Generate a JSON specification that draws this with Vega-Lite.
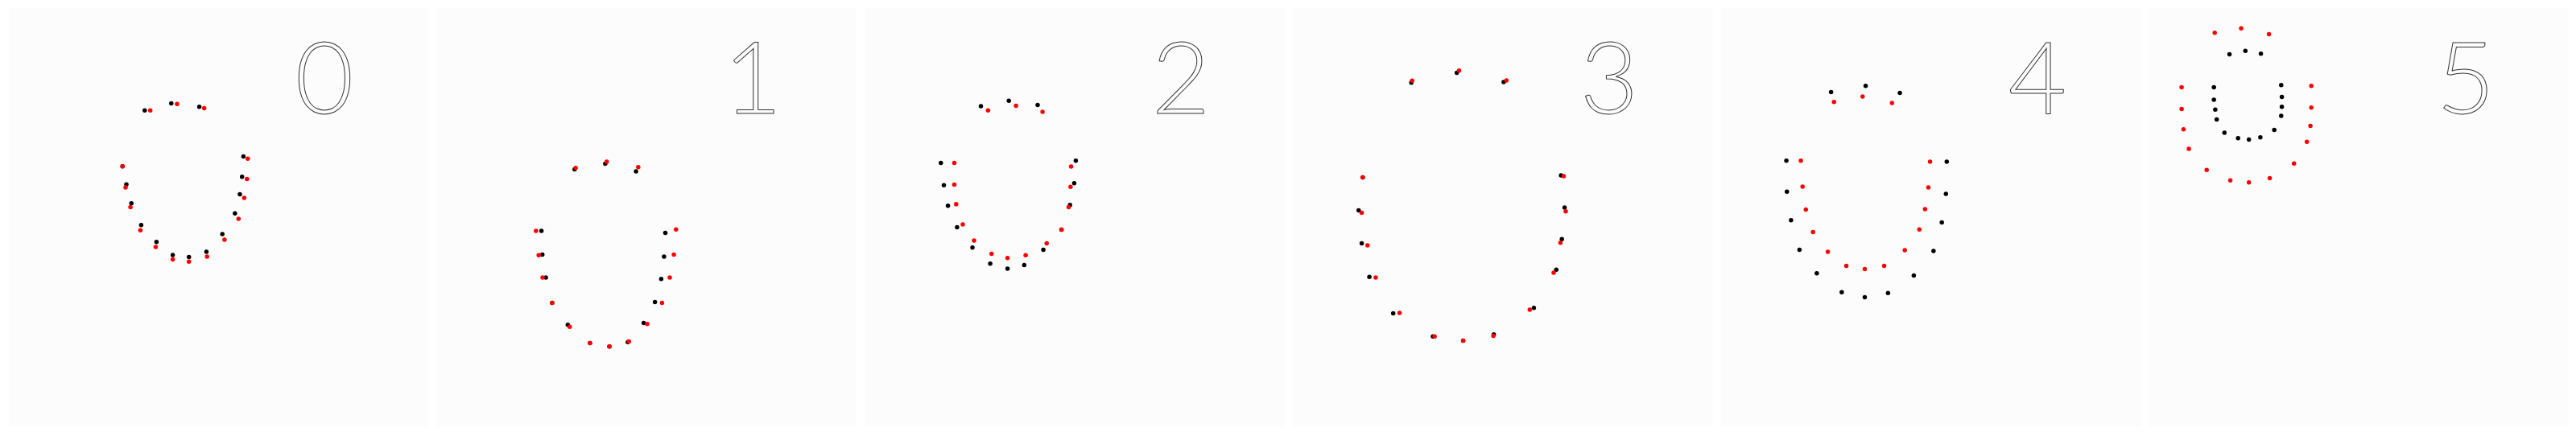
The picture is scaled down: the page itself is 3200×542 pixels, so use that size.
{
  "$schema": "https://vega.github.io/schema/vega-lite/v6.json",
  "background": "white",
  "padding": {"left": 10.7, "top": 10, "right": 8, "bottom": 12},
  "data": {"values": [
    {"p":0,"s":"black","x":179.8,"y":137.2},{"p":0,"s":"black","x":212.8,"y":128.6},{"p":0,"s":"black","x":247.6,"y":132.7},{"p":0,"s":"black","x":152.2,"y":206.7},{"p":0,"s":"black","x":157.0,"y":229.2},{"p":0,"s":"black","x":163.2,"y":252.7},{"p":0,"s":"black","x":175.4,"y":279.7},{"p":0,"s":"black","x":194.4,"y":300.7},{"p":0,"s":"black","x":214.6,"y":317.0},{"p":0,"s":"black","x":234.7,"y":319.4},{"p":0,"s":"black","x":256.4,"y":312.9},{"p":0,"s":"black","x":276.2,"y":291.1},{"p":0,"s":"black","x":291.9,"y":265.2},{"p":0,"s":"black","x":298.0,"y":241.6},{"p":0,"s":"black","x":300.7,"y":219.8},{"p":0,"s":"black","x":302.4,"y":194.6},
    {"p":1,"s":"black","x":181.8,"y":210.5},{"p":1,"s":"black","x":219.9,"y":203.6},{"p":1,"s":"black","x":258.1,"y":212.9},{"p":1,"s":"black","x":140.6,"y":286.9},{"p":1,"s":"black","x":141.7,"y":316.6},{"p":1,"s":"black","x":146.1,"y":345.0},{"p":1,"s":"black","x":153.9,"y":376.4},{"p":1,"s":"black","x":173.3,"y":403.7},{"p":1,"s":"black","x":200.9,"y":426.5},{"p":1,"s":"black","x":225.0,"y":430.7},{"p":1,"s":"black","x":247.9,"y":425.2},{"p":1,"s":"black","x":267.6,"y":401.6},{"p":1,"s":"black","x":281.6,"y":375.4},{"p":1,"s":"black","x":289.4,"y":346.7},{"p":1,"s":"black","x":292.9,"y":319.1},{"p":1,"s":"black","x":294.5,"y":289.6},
    {"p":2,"s":"black","x":154.5,"y":132.0},{"p":2,"s":"black","x":189.2,"y":125.2},{"p":2,"s":"black","x":225.0,"y":130.4},{"p":2,"s":"black","x":104.8,"y":202.5},{"p":2,"s":"black","x":108.5,"y":230.2},{"p":2,"s":"black","x":113.6,"y":255.8},{"p":2,"s":"black","x":124.9,"y":282.4},{"p":2,"s":"black","x":144.0,"y":307.7},{"p":2,"s":"black","x":166.1,"y":327.7},{"p":2,"s":"black","x":187.6,"y":333.9},{"p":2,"s":"black","x":208.3,"y":329.5},{"p":2,"s":"black","x":232.1,"y":310.4},{"p":2,"s":"black","x":254.6,"y":285.5},{"p":2,"s":"black","x":265.2,"y":254.8},{"p":2,"s":"black","x":270.4,"y":227.8},{"p":2,"s":"black","x":272.4,"y":199.8},
    {"p":3,"s":"black","x":157.2,"y":102.7},{"p":3,"s":"black","x":213.7,"y":90.5},{"p":3,"s":"black","x":271.9,"y":101.9},{"p":3,"s":"black","x":96.9,"y":220.6},{"p":3,"s":"black","x":91.8,"y":261.6},{"p":3,"s":"black","x":95.6,"y":302.5},{"p":3,"s":"black","x":105.1,"y":344.3},{"p":3,"s":"black","x":134.7,"y":389.6},{"p":3,"s":"black","x":184.1,"y":418.2},{"p":3,"s":"black","x":221.6,"y":423.4},{"p":3,"s":"black","x":259.7,"y":415.8},{"p":3,"s":"black","x":309.4,"y":382.7},{"p":3,"s":"black","x":337.3,"y":335.3},{"p":3,"s":"black","x":344.2,"y":297.3},{"p":3,"s":"black","x":347.6,"y":257.9},{"p":3,"s":"black","x":343.2,"y":218.1},
    {"p":4,"s":"black","x":146.6,"y":114.4},{"p":4,"s":"black","x":189.6,"y":106.8},{"p":4,"s":"black","x":232.1,"y":115.4},{"p":4,"s":"black","x":91.1,"y":199.8},{"p":4,"s":"black","x":91.8,"y":238.2},{"p":4,"s":"black","x":96.9,"y":273.8},{"p":4,"s":"black","x":107.4,"y":310.4},{"p":4,"s":"black","x":128.9,"y":339.8},{"p":4,"s":"black","x":159.9,"y":363.3},{"p":4,"s":"black","x":188.5,"y":369.5},{"p":4,"s":"black","x":217.4,"y":364.3},{"p":4,"s":"black","x":249.4,"y":342.5},{"p":4,"s":"black","x":273.9,"y":312.1},{"p":4,"s":"black","x":284.2,"y":276.6},{"p":4,"s":"black","x":289.3,"y":240.9},{"p":4,"s":"black","x":290.3,"y":200.9},
    {"p":5,"s":"black","x":109.6,"y":67.4},{"p":5,"s":"black","x":129.3,"y":63.3},{"p":5,"s":"black","x":148.6,"y":66.7},{"p":5,"s":"black","x":90.2,"y":108.6},{"p":5,"s":"black","x":90.2,"y":124.1},{"p":5,"s":"black","x":91.9,"y":136.2},{"p":5,"s":"black","x":93.7,"y":148.6},{"p":5,"s":"black","x":103.3,"y":164.9},{"p":5,"s":"black","x":120.2,"y":171.8},{"p":5,"s":"black","x":133.7,"y":173.5},{"p":5,"s":"black","x":147.9,"y":170.8},{"p":5,"s":"black","x":165.2,"y":161.5},{"p":5,"s":"black","x":173.8,"y":144.1},{"p":5,"s":"black","x":174.6,"y":132.7},{"p":5,"s":"black","x":174.6,"y":120.6},{"p":5,"s":"black","x":173.8,"y":105.8},
    {"p":0,"s":"red","x":186.7,"y":137.2},{"p":0,"s":"red","x":220.0,"y":129.3},{"p":0,"s":"red","x":253.7,"y":134.5},{"p":0,"s":"red","x":152.2,"y":206.7},{"p":0,"s":"red","x":156.0,"y":233.0},{"p":0,"s":"red","x":162.1,"y":257.5},{"p":0,"s":"red","x":174.4,"y":286.2},{"p":0,"s":"red","x":193.4,"y":307.0},{"p":0,"s":"red","x":214.6,"y":322.5},{"p":0,"s":"red","x":234.7,"y":325.3},{"p":0,"s":"red","x":257.2,"y":319.1},{"p":0,"s":"red","x":278.9,"y":297.9},{"p":0,"s":"red","x":296.3,"y":272.0},{"p":0,"s":"red","x":303.4,"y":246.1},{"p":0,"s":"red","x":306.8,"y":222.6},{"p":0,"s":"red","x":307.8,"y":197.3},
    {"p":1,"s":"red","x":183.1,"y":208.7},{"p":1,"s":"red","x":221.7,"y":200.9},{"p":1,"s":"red","x":260.8,"y":207.7},{"p":1,"s":"red","x":133.8,"y":286.9},{"p":1,"s":"red","x":137.2,"y":317.3},{"p":1,"s":"red","x":142.0,"y":345.0},{"p":1,"s":"red","x":153.9,"y":376.4},{"p":1,"s":"red","x":175.7,"y":406.2},{"p":1,"s":"red","x":200.9,"y":426.5},{"p":1,"s":"red","x":225.0,"y":430.7},{"p":1,"s":"red","x":249.3,"y":424.4},{"p":1,"s":"red","x":272.0,"y":402.7},{"p":1,"s":"red","x":290.4,"y":376.4},{"p":1,"s":"red","x":300.0,"y":345.0},{"p":1,"s":"red","x":305.1,"y":316.6},{"p":1,"s":"red","x":307.8,"y":285.2},
    {"p":2,"s":"red","x":163.4,"y":137.2},{"p":2,"s":"red","x":198.1,"y":131.4},{"p":2,"s":"red","x":231.1,"y":139.0},{"p":2,"s":"red","x":121.5,"y":202.5},{"p":2,"s":"red","x":121.5,"y":229.5},{"p":2,"s":"red","x":123.8,"y":253.8},{"p":2,"s":"red","x":132.0,"y":279.0},{"p":2,"s":"red","x":146.0,"y":299.0},{"p":2,"s":"red","x":167.8,"y":315.6},{"p":2,"s":"red","x":187.6,"y":320.7},{"p":2,"s":"red","x":210.1,"y":317.3},{"p":2,"s":"red","x":236.2,"y":302.5},{"p":2,"s":"red","x":254.6,"y":285.5},{"p":2,"s":"red","x":263.5,"y":257.5},{"p":2,"s":"red","x":265.9,"y":232.3},{"p":2,"s":"red","x":266.6,"y":207.1},
    {"p":3,"s":"red","x":158.2,"y":100.3},{"p":3,"s":"red","x":216.5,"y":87.8},{"p":3,"s":"red","x":275.4,"y":99.9},{"p":3,"s":"red","x":96.9,"y":220.6},{"p":3,"s":"red","x":95.6,"y":264.4},{"p":3,"s":"red","x":102.8,"y":304.9},{"p":3,"s":"red","x":113.0,"y":345.0},{"p":3,"s":"red","x":142.6,"y":388.9},{"p":3,"s":"red","x":186.1,"y":418.2},{"p":3,"s":"red","x":221.6,"y":423.4},{"p":3,"s":"red","x":259.1,"y":417.6},{"p":3,"s":"red","x":304.3,"y":385.0},{"p":3,"s":"red","x":334.0,"y":339.1},{"p":3,"s":"red","x":342.4,"y":301.8},{"p":3,"s":"red","x":349.0,"y":262.7},{"p":3,"s":"red","x":346.5,"y":219.1},
    {"p":4,"s":"red","x":150.3,"y":126.8},{"p":4,"s":"red","x":185.8,"y":120.0},{"p":4,"s":"red","x":222.3,"y":127.9},{"p":4,"s":"red","x":109.1,"y":199.8},{"p":4,"s":"red","x":111.2,"y":232.0},{"p":4,"s":"red","x":115.3,"y":260.6},{"p":4,"s":"red","x":124.2,"y":288.6},{"p":4,"s":"red","x":142.6,"y":312.9},{"p":4,"s":"red","x":165.6,"y":330.5},{"p":4,"s":"red","x":188.5,"y":334.6},{"p":4,"s":"red","x":212.6,"y":330.5},{"p":4,"s":"red","x":238.2,"y":311.1},{"p":4,"s":"red","x":256.3,"y":285.2},{"p":4,"s":"red","x":263.4,"y":260.0},{"p":4,"s":"red","x":267.5,"y":233.0},{"p":4,"s":"red","x":269.6,"y":200.9},
    {"p":5,"s":"red","x":91.2,"y":40.8},{"p":5,"s":"red","x":124.1,"y":35.3},{"p":5,"s":"red","x":158.6,"y":42.5},{"p":5,"s":"red","x":50.1,"y":108.6},{"p":5,"s":"red","x":50.1,"y":135.5},{"p":5,"s":"red","x":52.5,"y":160.7},{"p":5,"s":"red","x":59.1,"y":184.9},{"p":5,"s":"red","x":81.2,"y":211.2},{"p":5,"s":"red","x":110.6,"y":224.3},{"p":5,"s":"red","x":133.7,"y":226.8},{"p":5,"s":"red","x":159.6,"y":221.6},{"p":5,"s":"red","x":189.7,"y":203.3},{"p":5,"s":"red","x":205.7,"y":176.3},{"p":5,"s":"red","x":210.1,"y":156.6},{"p":5,"s":"red","x":211.2,"y":133.8},{"p":5,"s":"red","x":211.2,"y":106.8}
  ]},
  "facet": {"column": {"field": "p", "type": "ordinal", "header": null}},
  "spacing": 11,
  "spec": {
    "width": 521,
    "height": 520,
    "layer": [
      {
        "mark": {"type": "circle", "size": 30, "opacity": 1},
        "encoding": {
          "x": {"field": "x", "type": "quantitative", "scale": {"domain": [10.7, 531.7], "nice": false, "zero": false}, "axis": null},
          "y": {"field": "y", "type": "quantitative", "scale": {"domain": [10, 530], "reverse": true, "nice": false, "zero": false}, "axis": null},
          "color": {"field": "s", "type": "nominal", "scale": {"domain": ["black", "red"], "range": ["#000000", "#ff0000"]}, "legend": null}
        }
      },
      {
        "transform": [{"aggregate": [{"op": "count", "as": "n"}], "groupby": ["p"]}],
        "mark": {"type": "text", "font": "Lato", "fontSize": 125, "fontWeight": 300, "fill": "#fcfcfc", "stroke": "#333333", "strokeWidth": 1, "align": "center", "baseline": "alphabetic"},
        "encoding": {
          "x": {"datum": 403, "type": "quantitative"},
          "y": {"datum": 141, "type": "quantitative"},
          "text": {"field": "p", "type": "nominal"}
        }
      }
    ]
  },
  "config": {"view": {"fill": "#fcfcfc", "stroke": null}}
}
